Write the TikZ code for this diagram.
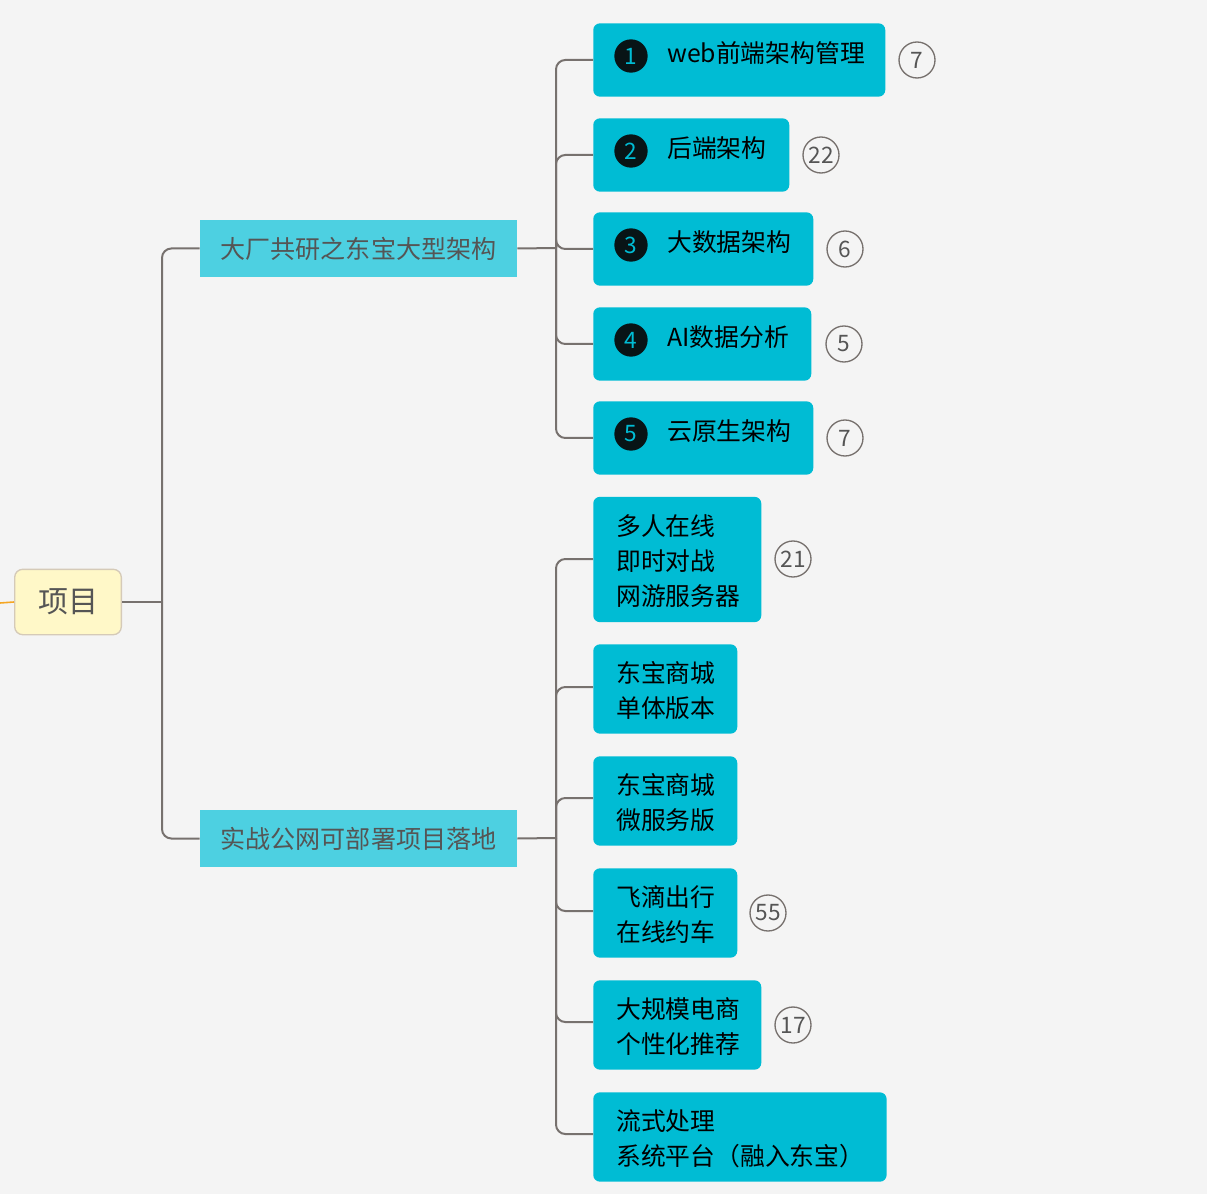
\documentclass[tikz,border=0pt]{standalone}
\usepackage{fontspec}
\setmainfont{Noto Sans CJK SC}
\usetikzlibrary{positioning}
\definecolor{bgc}{HTML}{F4F4F4}
\definecolor{topic}{HTML}{00BCD4}
\definecolor{sub}{HTML}{4DD0E1}
\definecolor{rootfill}{HTML}{FFF8C8}
\definecolor{rootline}{HTML}{D5CAB8}
\definecolor{link}{HTML}{77716E}
\definecolor{txt}{HTML}{555555}
\definecolor{dot}{HTML}{081416}
\definecolor{lead}{HTML}{F5A623}
\tikzset{
  root/.style={draw=rootline, line width=1pt, fill=rootfill, rounded corners=6pt, minimum width=80pt, minimum height=49pt, text=txt, font=\fontsize{22.5}{26}\selectfont},
  main/.style={fill=sub, minimum width=238pt, minimum height=43pt, text=txt, font=\fontsize{18.8}{22}\selectfont},
  leaf/.style={fill=topic, rounded corners=5pt, anchor=west, text=black, align=left, inner sep=0pt},
  leaftext/.style={anchor=north west, align=left, inner sep=0pt, font=\fontsize{18.6}{26.5}\selectfont},
  num/.style={circle, fill=dot, text=topic, minimum size=25pt, inner sep=0pt, font=\fontsize{17}{17}\selectfont},
  cnt/.style={circle, draw=link, line width=1pt, text=txt, minimum size=27pt, inner sep=0pt, font=\fontsize{17}{17}\selectfont},
  conn/.style={draw=link, line width=1.5pt, rounded corners=7pt}
}
\begin{document}
\begin{tikzpicture}[x=0.75pt, y=-0.75pt]
\fill[bgc] (0,0) rectangle (1207,1194);
\useasboundingbox (0,0) rectangle (1207,1194);

% root
\node[root] (proj) at (68,602) {项目};
\draw[lead, line width=1.2pt] (0,603) -- (proj.west);

% two main topics
\node[main] (arch) at (358.5,248.5) {大厂共研之东宝大型架构};
\node[main] (prac) at (358.5,838.5) {实战公网可部署项目落地};
\coordinate (j0) at (162,602);
\draw[conn] (proj.east) -- (j0);
\draw[conn] (j0) |- (arch.west);
\draw[conn] (j0) |- (prac.west);

% first group
\coordinate (j1) at (556,248);
\draw[conn] (arch.east) -- (j1);
\foreach \i/\y/\w/\t/\c/\cx in {1/60/292/web前端架构管理/7/917, 2/155/196/后端架构/22/821, 3/249/220/大数据架构/6/845, 4/344/218/AI数据分析/5/844, 5/438/220/云原生架构/7/845}
{
  \node[leaf, minimum width=\w*0.75pt, minimum height=55pt] (a\i) at (593,\y) {};
  \node[num] (n\i) at (631,\y-4) {\i};
  \node[anchor=west, inner sep=0pt, font=\fontsize{18.6}{22}\selectfont] (t\i) at (667,\y-7) {\t};
  \node[cnt] (c\i) at (\cx,\y) {\c};
  \draw[conn] (j1) |- (a\i.west);
}

% second group
\node[leaf, minimum width=126pt, minimum height=94pt] (b1) at (593,559.5) {};
\node[leaftext] (s1) at (616,514) {多人在线\\即时对战\\网游服务器};
\node[leaf, minimum width=108pt, minimum height=67pt] (b2) at (593,689) {};
\node[leaftext] (s2) at (616,661) {东宝商城\\单体版本};
\node[leaf, minimum width=108pt, minimum height=67pt] (b3) at (593,801) {};
\node[leaftext] (s3) at (616,773) {东宝商城\\微服务版};
\node[leaf, minimum width=108pt, minimum height=67pt] (b4) at (593,913) {};
\node[leaftext] (s4) at (616,885) {飞滴出行\\在线约车};
\node[leaf, minimum width=126pt, minimum height=67pt] (b5) at (593,1025) {};
\node[leaftext] (s5) at (616,997) {大规模电商\\个性化推荐};
\node[leaf, minimum width=220pt, minimum height=67pt] (b6) at (593,1137) {};
\node[leaftext] (s6) at (616,1109) {流式处理\\系统平台（融入东宝）};

\node[cnt] (k1) at (793,559) {21};
\node[cnt] (k4) at (768,913) {55};
\node[cnt] (k5) at (793,1025) {17};

\coordinate (j2) at (556,838);
\draw[conn] (prac.east) -- (j2);
\foreach \j/\y in {1/559, 2/687, 3/798, 4/911, 5/1022, 6/1134}
  \draw[conn] (j2) |- (593,\y);
\end{tikzpicture}
\end{document}
